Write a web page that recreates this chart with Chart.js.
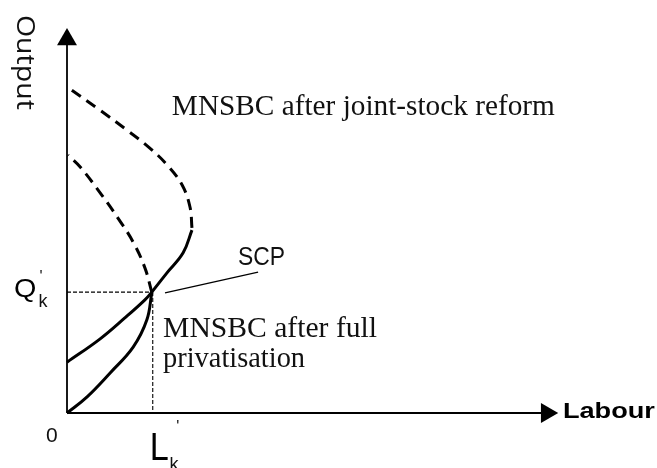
<!DOCTYPE html>
<html>
<head>
<meta charset="utf-8">
<script src="https://cdn.jsdelivr.net/npm/chart.js@4/dist/chart.umd.min.js"></script>
<style>
html,body{margin:0;padding:0;background:#fff;}
#wrap{width:657px;height:468px;}
canvas{display:block;}
</style>
</head>
<body>
<div id="wrap"><canvas id="c" width="657" height="468"></canvas></div>
<script>
// ---- Values (x = Labour, y = Output, arbitrary 0-100 units) ----
// Outer dashed branch: MNSBC after joint-stock reform (upper, backward-bending part)
const outerDashedX = [25.5, 25.1, 23.5, 20.6, 16.9, 12.2, 6.7, 0.6];
const outerDashedY = [48.1, 53.5, 59.2, 64.2, 68.8, 73.5, 78.7, 84.2];
// Solid branch: MNSBC after joint-stock reform (lower part, from the axis up to the turn)
const reformSolidX = [0.0, 6.7, 11.8, 15.9, 17.3, 20.4, 23.7, 25.5];
const reformSolidY = [13.2, 19.2, 24.7, 29.4, 31.4, 36.4, 41.6, 47.5];
// Solid branch: MNSBC after full privatisation (from origin to equilibrium)
const privSolidX = [0.0, 4.1, 8.8, 13.5, 16.3, 17.3];
const privSolidY = [0.0, 4.2, 10.4, 17.1, 24.2, 31.2];
// Inner dashed branch: MNSBC after full privatisation (above equilibrium)
const innerDashedX = [17.3, 15.9, 13.5, 10.4, 7.1, 2.7, 0.2];
const innerDashedY = [31.4, 37.7, 44.4, 50.6, 56.6, 63.9, 67.0];
// Equilibrium point (L'k, Q'k)
const eqL = 17.3;
const eqQ = 31.4;
// SCP pointer line end points
const scpX = [20.0, 39.0];
const scpY = [31.2, 36.6];
// Axis extents (where the arrow heads sit)
const axisXEnd = 97.9;
const axisYEnd = 97.0;
// Text
const curveLabels = ['MNSBC after joint-stock reform', 'MNSBC after full', 'privatisation', 'SCP'];
const axisTitles = ['Output', 'Labour'];
const tickLabels = ['0'];

const pts = (xs, ys) => xs.map((x, i) => ({x: x, y: ys[i]}));

const black = '#000000';
const curveStyle = {borderColor: black, borderWidth: 3, pointRadius: 0, showLine: true, fill: false, tension: 0.4, clip: false};

const datasets = [
  // axes
  {data: [{x: 0, y: 0}, {x: axisXEnd, y: 0}], borderColor: black, borderWidth: 1.8, showLine: true, tension: 0,
   pointRadius: [0, 11.5], pointStyle: 'triangle', rotation: 90, pointBackgroundColor: black, pointBorderColor: black, pointBorderWidth: 0, clip: false},
  {data: [{x: 0, y: 0}, {x: 0, y: axisYEnd}], borderColor: black, borderWidth: 1.8, showLine: true, tension: 0,
   pointRadius: [0, 11.5], pointStyle: 'triangle', rotation: 0, pointBackgroundColor: black, pointBorderColor: black, pointBorderWidth: 0, clip: false},
  // guides to equilibrium
  {data: [{x: 0, y: eqQ}, {x: eqL, y: eqQ}], borderColor: black, borderWidth: 1.1, borderDash: [4, 2], showLine: true, pointRadius: 0, tension: 0, clip: false},
  {data: [{x: eqL + 0.2, y: eqQ}, {x: eqL + 0.2, y: 0}], borderColor: black, borderWidth: 1.1, borderDash: [4, 2], showLine: true, pointRadius: 0, tension: 0, clip: false},
  // SCP pointer
  {data: pts(scpX, scpY), borderColor: black, borderWidth: 1.3, showLine: true, pointRadius: 0, tension: 0, clip: false},
  // curves
  Object.assign({data: pts(outerDashedX, outerDashedY), borderDash: [11, 7]}, curveStyle),
  Object.assign({data: pts(reformSolidX, reformSolidY)}, curveStyle),
  Object.assign({data: pts(privSolidX, privSolidY)}, curveStyle),
  Object.assign({data: pts(innerDashedX, innerDashedY), borderDash: [11, 7]}, curveStyle)
];

// Text layout (anchors in data units, baseline-left; w = target width in px)
const serif = "'Liberation Serif', 'Times New Roman', serif";
const sans = "'Liberation Sans', Arial, sans-serif";
const textLayout = [
  {t: curveLabels[0], x: 21.4, y: 77.4, font: '29px ' + serif, w: 383, color: '#111'},
  {t: curveLabels[1], x: 19.6, y: 19.74, font: '29px ' + serif, w: 214, color: '#111'},
  {t: curveLabels[2], x: 19.6, y: 11.95, font: '29px ' + serif, w: 142, color: '#111'},
  {t: curveLabels[3], x: 34.9, y: 38.44, font: '25px ' + sans, w: 47, color: '#111'},
  {t: axisTitles[0], x: -10.2, y: 103.4, font: "25px 'Open Sans', " + sans, w: 95, rot: Math.PI / 2, color: '#111'},
  {t: axisTitles[1], x: 101.2, y: -1.3, font: 'bold 22px ' + sans, w: 92, color: '#000'},
  {t: tickLabels[0], x: -4.3, y: -7.53, font: '21px ' + sans, color: '#111'},
  {t: 'Q', x: -10.8, y: 30.1, font: '25px ' + sans, sx: 1.15, color: '#000'},
  {t: 'k', x: -5.8, y: 27.5, font: '18px ' + sans, color: '#111'},
  {t: "'", x: -5.6, y: 34.0, font: '16px ' + sans, color: '#111'},
  {t: 'L', x: 16.9, y: -12.2, font: '38px ' + sans, sx: 0.9, color: '#000'},
  {t: 'k', x: 20.9, y: -14.8, font: '18px ' + sans, color: '#111'},
  {t: "'", x: 22.3, y: -5.0, font: '16px ' + sans, color: '#111'}
];

const textPlugin = {
  id: 'diagramText',
  afterDatasetsDraw(chart) {
    const ctx = chart.ctx;
    const xs = chart.scales.x, ys = chart.scales.y;
    textLayout.forEach(l => {
      const px = xs.getPixelForValue(l.x);
      const py = ys.getPixelForValue(l.y);
      ctx.save();
      ctx.font = l.font;
      ctx.fillStyle = l.color || '#000';
      ctx.textBaseline = 'alphabetic';
      ctx.textAlign = 'left';
      ctx.translate(px, py);
      if (l.rot) ctx.rotate(l.rot);
      let s = l.sx || 1;
      if (l.w) s = l.w / ctx.measureText(l.t).width;
      ctx.scale(s, 1);
      ctx.fillText(l.t, 0, 0);
      ctx.restore();
    });
  }
};

const bgPlugin = {
  id: 'bg',
  beforeDraw(chart) {
    const ctx = chart.ctx;
    ctx.save();
    ctx.fillStyle = '#ffffff';
    ctx.fillRect(0, 0, chart.width, chart.height);
    ctx.restore();
  }
};

new Chart(document.getElementById('c'), {
  type: 'scatter',
  data: {datasets: datasets},
  options: {
    responsive: false,
    animation: false,
    events: [],
    layout: {padding: {left: 67, right: 100, top: 28, bottom: 55}},
    scales: {
      x: {type: 'linear', min: 0, max: 100, display: false},
      y: {type: 'linear', min: 0, max: 100, display: false}
    },
    plugins: {legend: {display: false}, tooltip: {enabled: false}}
  },
  plugins: [bgPlugin, textPlugin]
});
</script>
</body>
</html>
